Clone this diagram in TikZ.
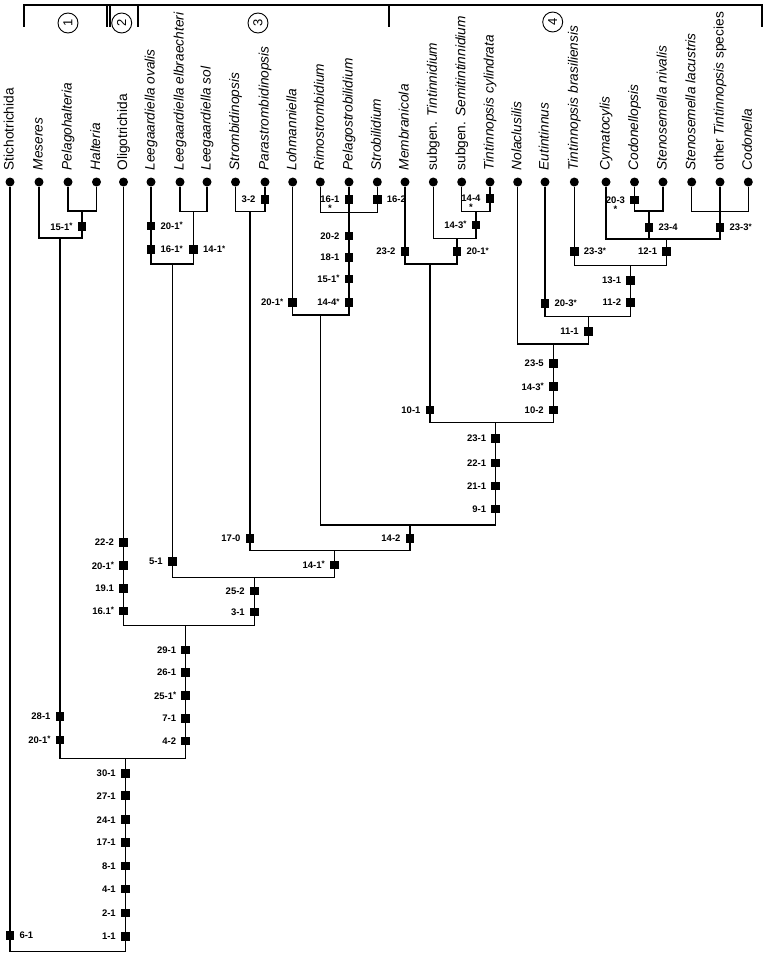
\documentclass[tikz,border=0pt]{standalone}
\usepackage{fontspec}
\setmainfont{Liberation Sans}
\usepackage{tikz}
\usetikzlibrary{positioning}
\newcommand{\sy}{\raisebox{1.8pt}{\fontsize{8}{8}\selectfont *}}

\begin{document}
\begin{tikzpicture}[x=1pt,y=-1pt,line width=1.25pt,node distance=4pt,
tip/.style={circle,fill=black,inner sep=0pt,minimum size=9pt},
taxon/.style={rotate=90,anchor=west,inner sep=0pt,text height=10pt,text depth=2.8pt,font=\fontsize{13.7}{16}\selectfont},
chr/.style={fill=black,inner sep=0pt,minimum size=8.6pt},
lab/.style={inner sep=0pt,font=\fontsize{9.5}{10}\selectfont\bfseries},
grp/.style={circle,draw,line width=0.9pt,inner sep=0pt,minimum size=20pt,rotate=90,font=\fontsize{13}{13}\selectfont}
]
\useasboundingbox (0,0) rectangle (772,958);

% group brackets
\draw[line width=1.8pt] (24,27) -- (24,5) -- (762,5) -- (762,27);
\draw[line width=1.8pt] (107.3,5) -- (107.3,27);
\draw[line width=1.8pt] (110.3,5) -- (110.3,27);
\draw[line width=1.8pt] (137.7,5) -- (137.7,27);
\draw[line width=1.8pt] (389,5) -- (389,27);
\node[grp] (g1) at (68,23) {1};
\node[grp] (g2) at (121.7,23) {2};
\node[grp] (g3) at (258,23) {3};
\node[grp] (g4) at (552.7,22) {4};

% terminal taxa
\foreach \nm/\x/\txt in {stich/10/Stichotrichida, mes/39/\textit{Meseres}, pelh/68/\textit{Pelagohalteria},
 halt/96.5/\textit{Halteria}, olig/123.5/Oligotrichida, lov/151/\textit{Leegaardiella ovalis},
 lelb/180/\textit{Leegaardiella elbraechteri}, lsol/207/\textit{Leegaardiella sol},
 strd/235.5/\textit{Strombidinopsis}, pstr/265/\textit{Parastrombidinopsis}, lohm/292.7/\textit{Lohmanniella},
 rimo/320.3/\textit{Rimostrombidium}, pstb/349/\textit{Pelagostrobilidium}, strb/377.3/\textit{Strobilidium},
 memb/405/\textit{Membranicola}, stint/433.3/subgen. \textit{Tintinnidium},
 ssemi/461.7/subgen. \textit{Semitintinnidium}, tcyl/490/\textit{Tintinnopsis cylindrata},
 nola/517.7/\textit{Nolaclusilis}, euti/545/\textit{Eutintinnus}, tbra/574.3/\textit{Tintinnopsis brasiliensis},
 cyma/606/\textit{Cymatocylis}, cdlp/634.5/\textit{Codonellopsis}, sniv/663/\textit{Stenosemella nivalis},
 slac/691.7/\textit{Stenosemella lacustris}, otin/720/other \textit{Tintinnopsis} species, cdla/748.3/\textit{Codonella}}
{
\node[tip] (\nm) at (\x,182) {};
\node[taxon] (\nm-l) at (\x,171) {\txt};
}

% branching points
\coordinate (jhal) at (82,211);
\coordinate (jmes) at (60,238);
\coordinate (jlsol) at (193.5,211.7);
\coordinate (jlee) at (172.3,264);
\coordinate (jstr) at (250,211.7);
\coordinate (jpst) at (349,212.7);
\coordinate (jloh) at (320.7,315);
\coordinate (jtcy) at (476,211.7);
\coordinate (jtin) at (457,238.3);
\coordinate (jmem) at (430,264);
\coordinate (jcod) at (649,211);
\coordinate (jotin) at (720,211.7);
\coordinate (jcym) at (666.7,239);
\coordinate (jtbr) at (630.7,265.7);
\coordinate (jeut) at (588.3,316.7);
\coordinate (jnol) at (553.3,344);
\coordinate (jtin2) at (495.7,422.3);
\coordinate (jlst) at (410,525);
\coordinate (jstb) at (334.3,550.7);
\coordinate (jleg) at (254.3,577.3);
\coordinate (joli) at (185.7,625.7);
\coordinate (jhaltr) at (125.3,758.3);
\coordinate (jroot) at (125.3,951.7);

% tree
\draw (pelh) |- (jhal) -| (halt);
\draw (mes) |- (jmes) -| (jhal);
\draw (lelb) |- (jlsol) -| (lsol);
\draw (lov) |- (jlee) -| (jlsol);
\draw (strd) |- (jstr) -| (pstr);
\draw (rimo) |- (jpst) -| (strb);
\draw (pstb) -- (jpst);
\draw (lohm) |- (jloh) -| (jpst);
\draw (ssemi) |- (jtcy) -| (tcyl);
\draw (stint) |- (jtin) -| (jtcy);
\draw (memb) |- (jmem) -| (jtin);
\draw (cdlp) |- (jcod) -| (sniv);
\draw (slac) |- (jotin) -| (cdla);
\draw (otin) -- (jotin);
\draw (cyma) |- (jcym) -| (jotin);
\draw (jcod) -- (jcod |- jcym);
\draw (tbra) |- (jtbr) -| (jcym);
\draw (euti) |- (jeut) -| (jtbr);
\draw (nola) |- (jnol) -| (jeut);
\draw (jmem) |- (jtin2) -| (jnol);
\draw (jloh) |- (jlst) -| (jtin2);
\draw (jstr) |- (jstb) -| (jlst);
\draw (jlee) |- (jleg) -| (jstb);
\draw (olig) |- (joli) -| (jleg);
\draw (jmes) |- (jhaltr) -| (joli);
\draw (stich) |- (jroot) -- (jhaltr);

% character states, single
\node[chr] (c1) at (82,226.7) {}; \node[lab,left=of c1] {15-1\sy};
\node[chr] (c2) at (151,226) {}; \node[lab,right=of c2] {20-1\sy};
\node[chr] (c3) at (151,249.3) {}; \node[lab,right=of c3] {16-1\sy};
\node[chr] (c4) at (193.5,249.3) {}; \node[lab,right=of c4] {14-1\sy};
\node[chr] (c5) at (265,199.3) {}; \node[lab,left=of c5] {3-2};
\node[chr] (c6) at (292.7,302.3) {}; \node[lab,left=of c6] {20-1\sy};
\node[chr] (c7) at (349,199.3) {}; \node[lab,left=of c7] (c7t) {16-1}; \node[lab,below=1pt of c7t] {*};
\node[chr] (c8) at (377.3,199.3) {}; \node[lab,right=of c8] {16-2};
\node[chr] (c9) at (405,251.3) {}; \node[lab,left=of c9] {23-2};
\node[chr] (c10) at (457,251.3) {}; \node[lab,right=of c10] {20-1\sy};
\node[chr] (c11) at (476,225) {}; \node[lab,left=of c11] {14-3\sy};
\node[chr] (c12) at (490,198.3) {}; \node[lab,left=of c12] (c12t) {14-4}; \node[lab,below=1pt of c12t] {*};
\node[chr] (c13) at (430,410) {}; \node[lab,left=of c13] {10-1};
\node[chr] (c14) at (588.3,331.7) {}; \node[lab,left=of c14] {11-1};
\node[chr] (c15) at (545,303.3) {}; \node[lab,right=of c15] {20-3\sy};
\node[chr] (c16) at (574.3,251.3) {}; \node[lab,right=of c16] {23-3\sy};
\node[chr] (c17) at (666.7,251.3) {}; \node[lab,left=of c17] {12-1};
\node[chr] (c18) at (649,227.3) {}; \node[lab,right=of c18] {23-4};
\node[chr] (c19) at (634.5,200) {}; \node[lab,left=of c19] (c19t) {20-3}; \node[lab,below=1pt of c19t] {*};
\node[chr] (c20) at (720,227.3) {}; \node[lab,right=of c20] {23-3\sy};
\node[chr] (c21) at (410,538.3) {}; \node[lab,left=of c21] {14-2};
\node[chr] (c22) at (250,538.3) {}; \node[lab,left=of c22] {17-0};
\node[chr] (c23) at (172.3,561.7) {}; \node[lab,left=of c23] {5-1};
\node[chr] (c24) at (334.3,565) {}; \node[lab,left=of c24] {14-1\sy};
\node[chr] (c25) at (10,935.7) {}; \node[lab,right=of c25] {6-1};

% character states, along stems
\foreach \y/\t [count=\n] in {236/20-2, 257.3/18-1, 279/15-1\sy, 302.3/14-4\sy}
{\node[chr] (p\n) at (349,\y) {}; \node[lab,left=of p\n] {\t};}
\foreach \y/\t [count=\n] in {363.3/23-5, 386.7/14-3\sy, 410/10-2}
{\node[chr] (n\n) at (553.3,\y) {}; \node[lab,left=of n\n] {\t};}
\foreach \y/\t [count=\n] in {280.7/13-1, 302.3/11-2}
{\node[chr] (b\n) at (630.7,\y) {}; \node[lab,left=of b\n] {\t};}
\foreach \y/\t [count=\n] in {438.7/23-1, 463/22-1, 486/21-1, 509/9-1}
{\node[chr] (t\n) at (495.7,\y) {}; \node[lab,left=of t\n] {\t};}
\foreach \y/\t [count=\n] in {591/25-2, 612/3-1}
{\node[chr] (s\n) at (254.3,\y) {}; \node[lab,left=of s\n] {\t};}
\foreach \y/\t [count=\n] in {542.3/22-2, 565.7/20-1\sy, 588.3/19.1, 611/16.1\sy}
{\node[chr] (o\n) at (123.5,\y) {}; \node[lab,left=of o\n] {\t};}
\foreach \y/\t [count=\n] in {650/29-1, 672.7/26-1, 695.7/25-1\sy, 718.3/7-1, 741/4-2}
{\node[chr] (a\n) at (185.7,\y) {}; \node[lab,left=of a\n] {\t};}
\foreach \y/\t [count=\n] in {716.7/28-1, 740/20-1\sy}
{\node[chr] (h\n) at (60,\y) {}; \node[lab,left=of h\n] {\t};}
\foreach \y/\t [count=\n] in {773.3/30-1, 795.7/27-1, 819.7/24-1, 842.3/17-1, 866/8-1, 889/4-1, 913/2-1, 936.3/1-1}
{\node[chr] (r\n) at (125.3,\y) {}; \node[lab,left=of r\n] {\t};}
\end{tikzpicture}
\end{document}
